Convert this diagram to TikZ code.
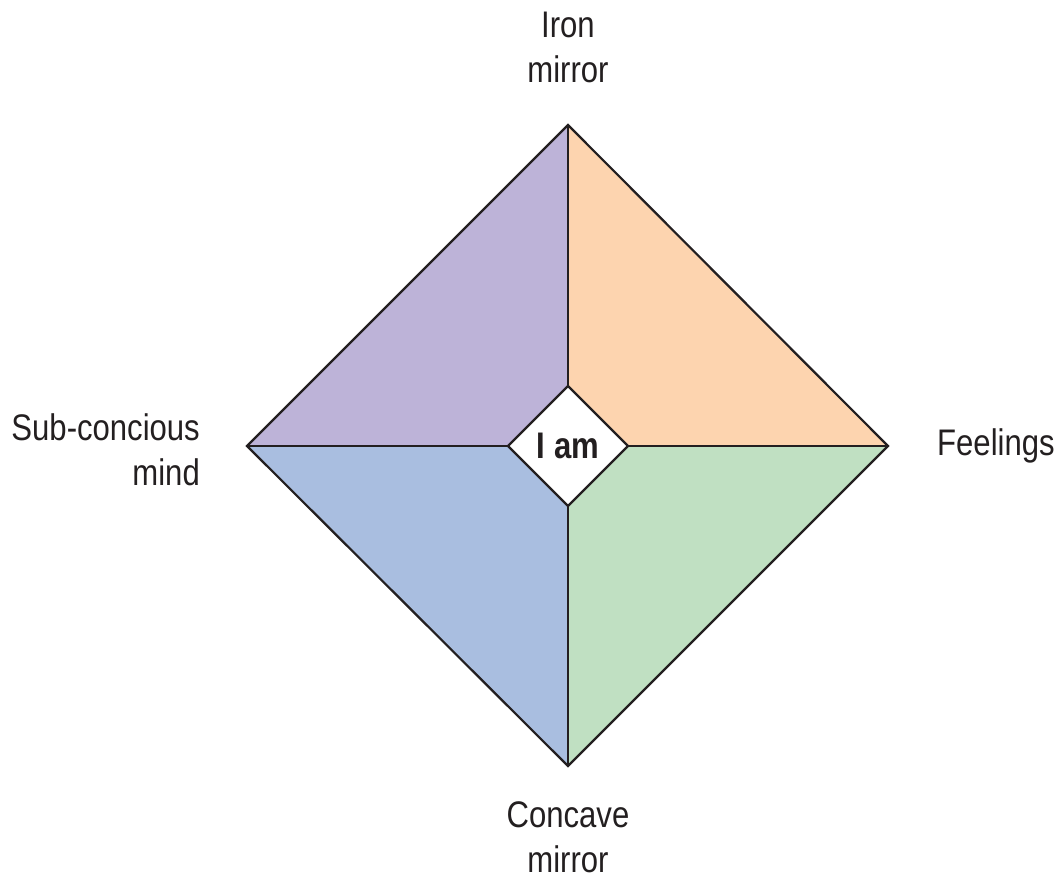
\documentclass[tikz,border=0pt]{standalone}
\usepackage{fontspec}
\setmainfont{Liberation Sans}[FakeStretch=0.84]
\usetikzlibrary{shapes.geometric,backgrounds}
\definecolor{quadpurple}{RGB}{189,179,216}
\definecolor{quadorange}{RGB}{253,212,175}
\definecolor{quadgreen}{RGB}{192,224,194}
\definecolor{quadblue}{RGB}{169,190,224}
\definecolor{inkgray}{RGB}{35,31,32}
\tikzset{edge/.style={draw=inkgray,line width=2.2pt,line join=miter},
	label text/.style={font=\fontsize{37}{45}\selectfont,inner sep=0pt,text=inkgray},
	core/.style={diamond,draw=inkgray,line width=2.2pt,fill=white,
		minimum width=120pt,minimum height=120pt,inner sep=0pt,outer sep=0pt,
		text=inkgray,font=\fontsize{37}{45}\selectfont\bfseries}}

\begin{document}
\begin{tikzpicture}[x=1pt,y=-1pt]
\useasboundingbox (0,0) rectangle (1058,879);
\coordinate (top) at (568,125);
\coordinate (right) at (888,446);
\coordinate (bottom) at (568,766);
\coordinate (left) at (247,446);
\node [core] (iam) at (568,446) {I am};
\begin{scope}[on background layer]
  \fill [quadpurple] (iam.north) -- (top) -- (left) -- (iam.west) -- cycle;
  \fill [quadorange] (iam.north) -- (top) -- (right) -- (iam.east) -- cycle;
  \fill [quadgreen] (iam.south) -- (bottom) -- (right) -- (iam.east) -- cycle;
  \fill [quadblue] (iam.south) -- (bottom) -- (left) -- (iam.west) -- cycle;
\end{scope}
\draw [edge] (top) -- (right) -- (bottom) -- (left) -- cycle;
\draw [edge] (iam.north) -- (top);
\draw [edge] (iam.east) -- (right);
\draw [edge] (iam.south) -- (bottom);
\draw [edge] (iam.west) -- (left);
\node [label text,align=center] (iron) at (568,47.5) {Iron\\mirror};
\node [label text,align=center] (concave) at (568,837) {Concave\\mirror};
\node [label text,align=right,anchor=east] (sub) at (200,449.5) {Sub-concious\\mind};
\node [label text,anchor=base west] (feel) at (937,455) {Feelings};
\end{tikzpicture}
\end{document}
